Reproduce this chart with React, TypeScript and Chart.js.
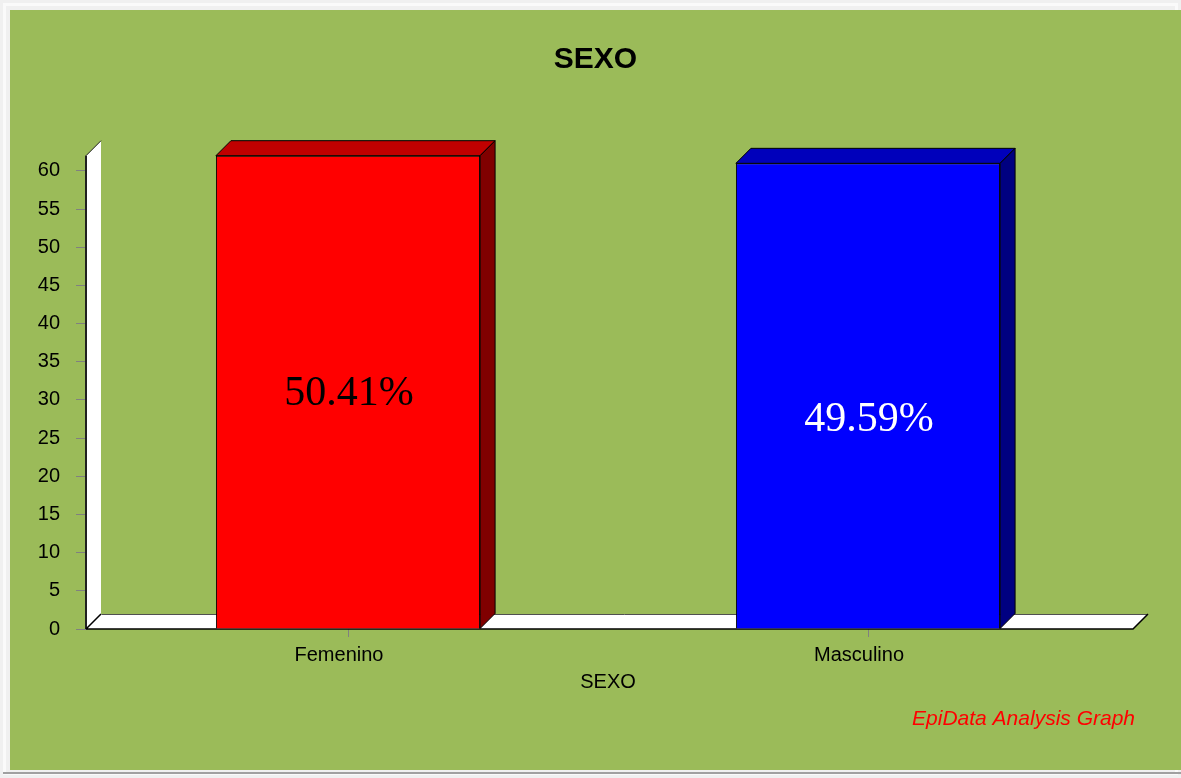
import React, { useEffect, useRef } from "react";
import { Chart, registerables } from "chart.js";

Chart.register(...registerables);

const categories = ["Femenino", "Masculino"];
const counts = [62, 61];
const frontColors = ["#FF0000", "#0000FF"];
const topColors = ["#C00000", "#0000BB"];
const sideColors = ["#800000", "#000080"];
const pctLabelColors = ["#000000", "#FFFFFF"];
const chartTitle = "SEXO";
const xAxisTitle = "SEXO";
const footerText = "EpiData Analysis Graph";
const yMax = 62;
const yTickValues = [0, 5, 10, 15, 20, 25, 30, 35, 40, 45, 50, 55, 60];

const SANS = "'Liberation Sans', Arial, sans-serif";
const SERIF = "'Liberation Serif', 'Times New Roman', serif";
const DEPTH = 15;

const framePlugin = {
  id: "frame3d",
  beforeDraw(chart: any) {
    const { ctx, width, height } = chart;
    ctx.save();
    ctx.fillStyle = "#F0F0F0";
    ctx.fillRect(0, 0, width, height);
    ctx.strokeStyle = "#FAFAFA";
    ctx.lineWidth = 3;
    ctx.strokeRect(4.5, 4.5, width - 9, height - 9);
    ctx.fillStyle = "#9BBB59";
    ctx.fillRect(10, 10, 1171, 760);
    ctx.strokeStyle = "#A0A0A0";
    ctx.lineWidth = 2;
    ctx.beginPath();
    ctx.moveTo(3, 773);
    ctx.lineTo(width, 773);
    ctx.stroke();
    ctx.restore();
  },
  beforeDatasetsDraw(chart: any) {
    const { ctx, chartArea } = chart;
    const L = chartArea.left - 2;
    const R = chartArea.right + 5;
    const T = chartArea.top;
    const B = chartArea.bottom;
    ctx.save();
    // wall
    ctx.fillStyle = "#FFFFFF";
    ctx.beginPath();
    ctx.moveTo(L, T);
    ctx.lineTo(L + DEPTH, T - DEPTH);
    ctx.lineTo(L + DEPTH, B - DEPTH);
    ctx.lineTo(L, B);
    ctx.closePath();
    ctx.fill();
    ctx.strokeStyle = "#202020";
    ctx.lineWidth = 1;
    ctx.beginPath();
    ctx.moveTo(L, B);
    ctx.lineTo(L, T);
    ctx.lineTo(L + DEPTH, T - DEPTH);
    ctx.stroke();
    ctx.lineWidth = 2;
    ctx.beginPath();
    ctx.moveTo(L, B);
    ctx.lineTo(L, T);
    ctx.stroke();
    // floor
    ctx.fillStyle = "#FFFFFF";
    ctx.beginPath();
    ctx.moveTo(L, B);
    ctx.lineTo(L + DEPTH, B - DEPTH);
    ctx.lineTo(R + DEPTH, B - DEPTH);
    ctx.lineTo(R, B);
    ctx.closePath();
    ctx.fill();
    ctx.lineWidth = 1;
    ctx.strokeStyle = "#505050";
    ctx.beginPath();
    ctx.moveTo(L + DEPTH + 0.5, B - DEPTH + 0.5);
    ctx.lineTo(R + DEPTH, B - DEPTH + 0.5);
    ctx.stroke();
    ctx.strokeStyle = "#000000";
    ctx.lineWidth = 1.5;
    ctx.beginPath();
    ctx.moveTo(L, B);
    ctx.lineTo(R, B);
    ctx.lineTo(R + DEPTH, B - DEPTH);
    ctx.moveTo(L, B);
    ctx.lineTo(L + DEPTH, B - DEPTH);
    ctx.stroke();
    ctx.restore();
  },
  afterDatasetsDraw(chart: any) {
    const { ctx } = chart;
    const meta = chart.getDatasetMeta(0);
    const total = counts.reduce((a, b) => a + b, 0);
    const nudges = [2, 24];
    ctx.save();
    meta.data.forEach((bar: any, i: number) => {
      const { x, y, width, base } = bar.getProps(["x", "y", "width", "base"], true);
      const l = x - width / 2;
      const r = x + width / 2;
      ctx.lineWidth = 1;
      ctx.strokeStyle = "#000000";
      ctx.lineJoin = "miter";
      ctx.fillStyle = topColors[i];
      ctx.beginPath();
      ctx.moveTo(l, y);
      ctx.lineTo(l + DEPTH, y - DEPTH);
      ctx.lineTo(r + DEPTH, y - DEPTH);
      ctx.lineTo(r, y);
      ctx.closePath();
      ctx.fill();
      ctx.stroke();
      ctx.fillStyle = sideColors[i];
      ctx.beginPath();
      ctx.moveTo(r, y);
      ctx.lineTo(r + DEPTH, y - DEPTH);
      ctx.lineTo(r + DEPTH, base - DEPTH);
      ctx.lineTo(r, base);
      ctx.closePath();
      ctx.fill();
      ctx.stroke();
      const pct = ((counts[i] / total) * 100).toFixed(2) + "%";
      ctx.fillStyle = pctLabelColors[i];
      ctx.font = `42px ${SERIF}`;
      ctx.textAlign = "center";
      ctx.textBaseline = "middle";
      ctx.fillText(pct, x + 1, (y + base) / 2 + nudges[i]);
    });
    ctx.restore();
  },
  afterDraw(chart: any) {
    const { ctx } = chart;
    ctx.save();
    ctx.fillStyle = "#FF0000";
    ctx.font = `italic 21px ${SANS}`;
    ctx.textAlign = "right";
    ctx.textBaseline = "middle";
    ctx.fillText(footerText, 1135, 719);
    ctx.restore();
  },
};

export default function App() {
  const ref = useRef<HTMLCanvasElement | null>(null);

  useEffect(() => {
    if (!ref.current) return;
    const chart = new Chart(ref.current, {
      type: "bar",
      data: {
        labels: categories,
        datasets: [
          {
            label: "SEXO",
            data: counts,
            backgroundColor: frontColors,
            borderColor: "#000000",
            borderWidth: 1,
            barPercentage: 0.508,
            categoryPercentage: 1,
            yAxisID: "y",
          },
        ],
      },
      options: {
        responsive: false,
        animation: false,
        layout: { padding: { left: 10, right: 0, top: 0, bottom: 0 } },
        plugins: {
          legend: { display: false },
          tooltip: { enabled: false },
          title: {
            display: true,
            text: chartTitle,
            color: "#000000",
            font: { family: SANS, size: 30, weight: "bold" },
            padding: { top: 41.5, bottom: 78.2 },
          },
        },
        scales: {
          x: {
            grid: {
              display: true,
              drawOnChartArea: false,
              tickLength: 8,
              color: "#808080",
              offset: false,
            },
            border: { display: false },
            ticks: {
              color: "#000000",
              font: { family: SANS, size: 20 },
              padding: 6,
              labelOffset: -9,
            },
            title: {
              display: true,
              text: xAxisTitle,
              color: "#000000",
              font: { family: SANS, size: 20 },
              padding: { top: 0, bottom: 83.5 },
            },
            afterFit(scale: any) {
              scale.height = 149;
            },
          },
          y: {
            min: 0,
            max: yMax,
            grid: {
              display: true,
              drawOnChartArea: false,
              tickLength: 12,
              color: "#808080",
            },
            border: { display: false },
            ticks: {
              color: "#000000",
              font: { family: SANS, size: 20 },
              padding: 16,
            },
            afterBuildTicks(scale: any) {
              scale.ticks = yTickValues.map((v) => ({ value: v }));
            },
            afterFit(scale: any) {
              scale.width = 78;
            },
          },
          yRight: {
            position: "right",
            display: true,
            min: 0,
            max: yMax,
            grid: { display: false },
            border: { display: false },
            ticks: { display: false },
            afterFit(scale: any) {
              scale.width = 53;
            },
          },
        },
      },
      plugins: [framePlugin],
    });
    return () => chart.destroy();
  }, []);

  return (
    <div style={{ position: "absolute", left: 0, top: 0, width: 1181, height: 778 }}>
      <canvas ref={ref} width={1181} height={778} style={{ display: "block" }} />
    </div>
  );
}
